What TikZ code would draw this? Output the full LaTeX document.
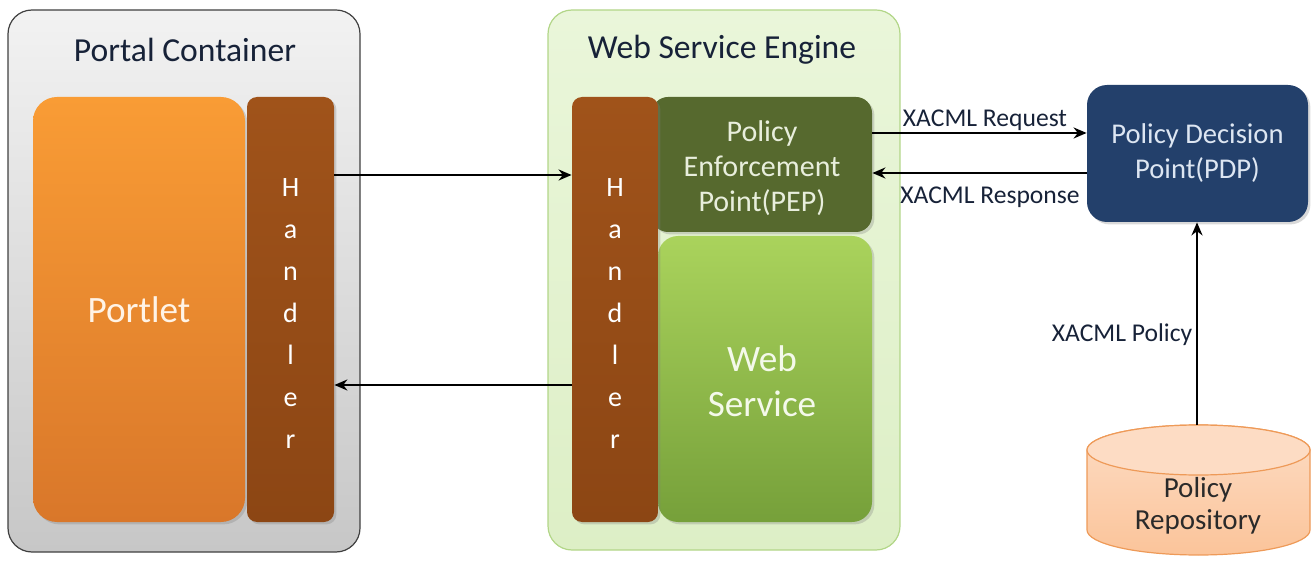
\documentclass[tikz,border=0pt]{standalone}
\usepackage{fontspec}
\setmainfont{Carlito}
\usetikzlibrary{arrows.meta,shadows}
\definecolor{navytxt}{HTML}{172238}
\definecolor{pepc}{HTML}{56692E}
\definecolor{pdpc}{HTML}{23406B}
\definecolor{cylfill}{HTML}{FBC49A}
\definecolor{cyltop}{HTML}{FDDCC4}
\definecolor{cylline}{HTML}{EE9A58}
\definecolor{portlettop}{HTML}{F99C35}
\definecolor{portletbot}{HTML}{D9772A}
\definecolor{portlettxt}{HTML}{FFF3E6}
\definecolor{handtop}{HTML}{A0531A}
\definecolor{handbot}{HTML}{8C4614}
\definecolor{wseline}{HTML}{B2D688}
\definecolor{wsetop}{HTML}{EAF6DA}
\definecolor{wsebot}{HTML}{DDEFC6}
\definecolor{peptxt}{HTML}{E8EEDC}
\definecolor{wstop}{HTML}{AAD35C}
\definecolor{wsbot}{HTML}{76A03A}
\definecolor{wstxt}{HTML}{F4F9EA}
\definecolor{pdptxt}{HTML}{DDE6F2}
\definecolor{repotxt}{HTML}{2A2A2A}
\tikzset{
  container/.style={rounded corners=12pt, draw, line width=0.6pt},
  inner/.style={rounded corners=#1, drop shadow={opacity=0.3, shadow xshift=1.2pt, shadow yshift=-1.2pt}},
  inner/.default=6pt,
  title/.style={text=navytxt, font=\fontsize{16.8}{18}\selectfont},
  arr/.style={line width=1.3pt, -{Stealth[length=6.5pt,width=5.5pt]}},
  lbl/.style={text=navytxt, font=\fontsize{12.8}{14}\selectfont, inner sep=0pt},
  handbox/.style={inner=5pt, top color=handtop, bottom color=handbot, minimum height=212.5pt},
  handtext/.style={text=white, align=center, font=\fontsize{14}{21}\selectfont},
}
\begin{document}
\begin{tikzpicture}[x=0.5pt,y=-0.5pt]
\useasboundingbox (0,0) rectangle (1312,561);
% Portal container
\node[container, draw=black!75, top color=black!5, bottom color=black!22,
  minimum width=176pt, minimum height=271pt] (portal) at (184,281) {};
\node[title] (portaltitle) at (185,50) {Portal Container};
\node[inner=12pt, top color=portlettop, bottom color=portletbot,
  minimum width=106pt, minimum height=212.5pt, text=portlettxt,
  font=\fontsize{18.6}{20}\selectfont] (portlet) at (139,309.5) {Portlet};
\node[handbox, minimum width=43.5pt] (hl) at (290.5,309.5) {};
\node[handtext] (hltext) at (290.5,314) {H\\a\\n\\d\\l\\e\\r};
% Web service engine
\node[container, draw=wseline, top color=wsetop, bottom color=wsebot,
  minimum width=176pt, minimum height=270pt] (wse) at (724,280) {};
\node[title] (wsetitle) at (722,50) {Web Service Engine};
\node[inner=8pt, fill=pepc, minimum width=110pt, minimum height=67.5pt] (pep) at (762,164.5) {};
\node[text=peptxt, align=center, font=\fontsize{15}{17.5}\selectfont] (peptext) at (762,168) {Policy\\Enforcement\\Point(PEP)};
\node[inner=10pt, top color=wstop, bottom color=wsbot,
  minimum width=107pt, minimum height=143pt] (ws) at (765,379) {};
\node[text=wstxt, align=center, font=\fontsize{18.6}{22.5}\selectfont] (wstext) at (762,381) {Web\\Service};
\node[handbox, minimum width=43pt] (hr) at (615,309.5) {};
\node[handtext] (hrtext) at (615,314) {H\\a\\n\\d\\l\\e\\r};
% PDP
\node[inner=10pt, fill=pdpc, minimum width=110.5pt, minimum height=68.5pt,
  text=pdptxt, align=center, font=\fontsize{14.3}{17.5}\selectfont] (pdp) at (1197.5,153.5) {Policy Decision\\Point(PDP)};
% Repository cylinder
\node[minimum width=111.5pt, minimum height=65pt, inner sep=0pt] (repo) at (1198.5,490) {};
\path[draw=cylline, line width=0.6pt, top color=cyltop, bottom color=cylfill]
  (1087,450) -- (1087,530) arc[start angle=180, end angle=0, x radius=111.5, y radius=25]
  -- (1310,450) arc[start angle=0, end angle=-180, x radius=111.5, y radius=25] -- cycle;
\path[draw=cylline, line width=0.6pt, fill=cyltop]
  (1198.5,450) ellipse[x radius=111.5, y radius=25];
\coordinate (repotop) at (1197,425);
\node[text=repotxt, align=center, font=\fontsize{14.5}{16}\selectfont] (repotext) at (1198,506) {Policy\\Repository};
% connectors
\draw[arr] (hl.east |- 0,175) -- (hr.west |- 0,175);
\draw[arr] (hr.west |- 0,385) -- (hl.east |- 0,385);
\draw[arr] (pep.east |- 0,133) -- (pdp.west |- 0,133);
\draw[arr] (pdp.west |- 0,173) -- (pep.east |- 0,173);
\draw[arr] (repotop) -- (repotop |- pdp.south);
% labels
\node[lbl] (lreq) at (985,120) {XACML Request};
\node[lbl] (lresp) at (990,197) {XACML Response};
\node[lbl] (lpol) at (1122,335) {XACML Policy};
\end{tikzpicture}
\end{document}
